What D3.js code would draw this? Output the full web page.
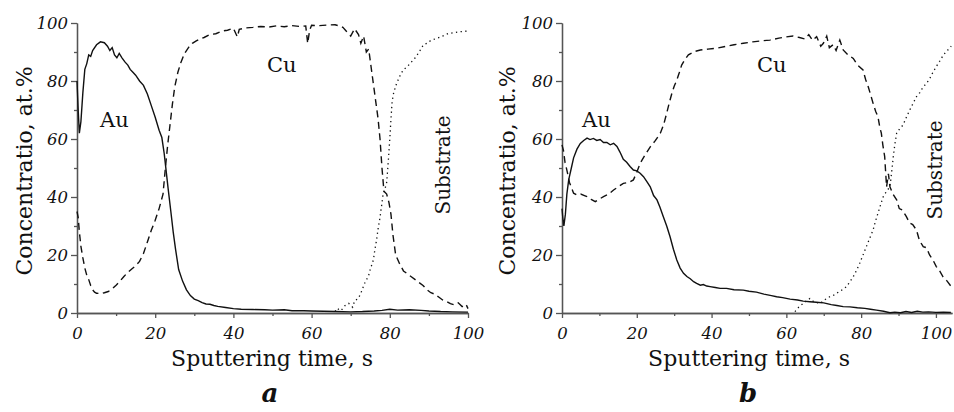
<!DOCTYPE html>
<html>
<head>
<meta charset="utf-8">
<script src="https://cdn.jsdelivr.net/npm/d3@7"></script>
<style>
  body { margin: 0; background: #fff; }
  svg { display: block; }
</style>
</head>
<body>
<div id="chart"></div>
<script>
// depth profiles, [time s, concentration at.%]
var auA = [[0,80],[0.3,70],[0.6,62],[1,66],[1.5,76],[2,84],[2.5,86],[3,89],[3.5,88.5],[4,90.5],[5,92.5],[6,93.5],[7,93.2],[7.8,92],[8.4,90.5],[9,91.5],[9.6,89],[10.2,88],[10.8,89.5],[11.5,88],[12.3,86.5],[13,85.5],[13.6,84],[14.3,83],[15,82],[16,80],[17,78.5],[18,75.5],[19,71.5],[20,67.5],[21,63],[21.7,60.5],[22.3,55],[22.8,49],[23.3,43],[24,35],[24.6,28],[25.2,22],[26,15],[27,11],[28,8],[29,6],[30,4.8],[31,4.3],[32,3.6],[33,3.1],[34,3],[35,2.6],[36,2.3],[38,1.9],[40,1.5],[42,1.3],[45,1.2],[48,1.1],[50,1.0],[53,1.1],[55,0.8],[58,0.8],[60,0.7],[63,0.6],[66,0.5],[70,0.4],[73,0.5],[76,0.7],[78,0.9],[80,1.3],[82,1.0],[85,1.1],[88,0.9],[90,0.7],[93,0.5],[96,0.4],[100,0.3]];
var cuA = [[0,35],[0.3,33],[0.6,28],[1,23],[1.5,19],[2,15.5],[2.5,13],[3,11.5],[3.5,9.5],[4,8],[4.5,7.2],[5,6.8],[6,6.7],[7,7],[8,7.4],[9,8.3],[10,9.6],[11,11],[12,12.6],[13,14],[14,15.2],[15,16.3],[16,17.8],[17,20.5],[18,24.5],[19,28.5],[20,32],[21,36],[22,41],[22.6,50],[23.2,58],[23.8,65],[24.4,72],[25,78],[25.8,83],[26.6,86.5],[27.5,89.5],[28.5,91.5],[29.5,93],[30.5,93.8],[31.5,94.5],[32.5,95],[34,96],[35.5,96.3],[37,97.2],[38.5,97.5],[40,98.2],[41,95.2],[41.5,97.8],[43,98.3],[45,98.5],[47,98.8],[49,98.6],[51,99],[53,98.7],[55,99.1],[57,98.8],[58.5,99],[59,93],[59.5,97.5],[60,99.2],[62,99.1],[64,99.3],[66,99.4],[67,99],[68,98.5],[69,97],[70,95.5],[71,98],[72,96],[72.6,93],[73.3,95.5],[74,90],[74.6,91],[75.2,85],[75.8,79],[76.4,73],[77,67],[77.5,60],[78,50],[78.5,42],[79.2,41],[79.8,38],[80.3,34],[80.8,27],[81.5,20],[82.5,17],[83.5,14.5],[84.5,13.5],[85.5,12.5],[86.5,11.5],[87.5,10.5],[88.5,9.5],[89.5,8],[90.5,7],[91.5,6.5],[92.5,5.5],[93.5,4.5],[94.5,4],[95.5,3.2],[96.5,2.8],[97.5,3.5],[98.5,2.2],[99.5,3],[100,1.5]];
var subA = [[66,0.5],[66.5,1.6],[67.5,0.8],[68.5,2.5],[69.5,3.3],[70.5,2],[71,4.2],[71.9,5],[72.5,6.5],[73.2,9],[73.8,11],[74.5,12.5],[75,15],[75.8,18.3],[76.2,22],[76.6,25],[77,29],[77.5,33],[78,38],[78.3,41],[78.8,43],[79.2,45],[79.6,52],[80,60],[80.3,67],[80.6,73],[81,76],[81.7,79],[82.5,81.5],[83.4,83.8],[84.5,85],[85.5,86.5],[86.5,88],[87.5,90],[88.6,92.5],[89.5,93],[90.5,94],[92,94.7],[93.5,95.5],[95,96.4],[96.5,96.7],[98,97],[99.7,97.2]];

var auB = [[0,36],[0.2,33],[0.5,30],[0.9,34],[1.3,41],[1.8,46],[2.5,50],[3.1,53.5],[4,56.5],[4.9,58.5],[5.8,59.5],[6.7,60.3],[7.5,59.8],[8.4,60.2],[9.3,59.5],[10.2,59.8],[11.1,58.8],[12,58.8],[12.9,58],[13.8,58.5],[14.7,57.4],[15.5,55.5],[16.4,53],[17.3,52],[18.2,50.5],[19.1,49.3],[20,49],[20.9,48.2],[21.8,47],[22.7,45.3],[23.6,43.5],[24.5,40.5],[25.4,39],[26.2,36.5],[27.1,33.2],[28,30],[28.9,26.3],[29.8,22],[30.7,18.3],[31.6,15.5],[32.5,13.7],[33.4,12.6],[34.3,11.8],[35.2,10.8],[36,10.2],[37,9.6],[37.8,9.8],[38.7,9.3],[39.6,9.1],[41,8.8],[42.3,8.5],[44,8.5],[46,8],[48.5,7.9],[50,7.5],[52,7.2],[54,6.5],[56,6],[57.4,5.6],[59,5.3],[61,4.8],[63,4.5],[64.5,4.1],[66.3,3.9],[68,3.7],[70,3.5],[72,2.9],[73.5,2.6],[75.2,2.2],[77,2.1],[79,1.8],[81,1.6],[82.5,1.3],[84.1,1.0],[86,0.6],[87.7,0.1],[89,0.3],[90.5,0.1],[92,0.5],[93.5,0.2],[95,0.6],[96.5,0.3],[98,0.4],[100,0.2],[102,0.3],[104,0.2]];
var cuB = [[0,58],[0.4,56],[0.8,52],[1.3,49.3],[2,45],[3.1,41.3],[4,40.7],[5,41],[6,40.5],[6.7,40.1],[7.8,39.2],[8.9,38.4],[10,39.3],[11.1,40.1],[12.5,41],[13.8,42.4],[15,43.5],[16.4,44.7],[17.8,45],[19.1,45.9],[20,48.5],[20.9,51.6],[22.2,54.5],[23.6,57.3],[25,59.5],[26.3,62],[27.2,65],[28,68.9],[28.7,72.5],[29.4,75.8],[30,78.2],[30.7,80.3],[31.4,83],[32,85.5],[32.9,87.5],[33.8,89],[35.5,90.2],[37,90.7],[39,91],[41.4,91.3],[44,92],[46,92.5],[48.5,93],[51,93.5],[53,93.8],[55.6,94.1],[58,94.8],[60,95.2],[61.8,95.5],[63.5,95],[65,94.5],[66,96],[67,94],[68.1,95.3],[69.2,92],[69.9,93],[70.8,95.5],[71.5,91.5],[72.5,92.5],[73.3,90.5],[74.3,94.1],[75.2,90.7],[76.5,89],[77.9,87.8],[79,85.5],[80.5,83.8],[81.2,80.5],[81.9,78],[82.6,75],[83.2,72.3],[83.9,69.5],[84.5,67.7],[85,64],[85.4,62],[85.8,58],[86.3,53.9],[86.8,43.5],[87.3,48],[87.7,43.5],[88.5,41],[89.5,39],[90.2,36],[91,35.5],[92.1,33.2],[93,31],[93.8,30.5],[94.8,28.6],[95.6,25],[96.6,22.9],[97.5,22.5],[98.3,20],[99.2,18.3],[100.1,16],[101,14.5],[101.9,12.5],[103,11],[104.1,9.1]];
var subB = [[62.3,0.5],[63.3,2],[64.5,3.3],[65.4,4.2],[66.3,5],[67.2,4],[68.1,3.6],[69,3.3],[69.8,4],[70.7,5],[71.6,5.6],[72.5,6],[73.4,6.8],[74.3,7.5],[75.2,8.2],[76.1,9.1],[77,10.8],[77.9,12.5],[78.8,14.8],[79.6,17.1],[80.5,20],[81.4,22.9],[82.3,25.8],[83.2,28.6],[83.8,31.5],[84.5,34.4],[85.2,37.3],[85.9,40.1],[86.8,42],[87.7,43.5],[88.2,49],[88.6,53.9],[89,58],[89.5,62],[90.3,63.5],[91.2,64.8],[92.1,67.5],[93,70],[93.9,72.3],[94.8,74.6],[95.7,76],[96.6,78],[97.5,79.2],[98.4,81],[99.2,83],[100.1,85],[101,86.8],[102,89],[103.2,90.7],[104.1,92]];

var yMajor = [0, 20, 40, 60, 80, 100];
var yMinor = [10, 30, 50, 70, 90];
var xMajor = [0, 20, 40, 60, 80, 100];
var xMinorA = [10, 30, 50, 70, 90];
var xMinorB = [10, 30, 50, 70, 90];

var width = 954, height = 412;
var serif = "'DejaVu Serif', 'Liberation Serif', serif";

var svg = d3.select("#chart").append("svg")
  .attr("width", width)
  .attr("height", height);

function panel(p) {
  var x = d3.scaleLinear().domain(p.xDomain).range([p.left, p.right]);
  var y = d3.scaleLinear().domain([0, 100]).range([313, 23]);
  var g = svg.append("g");

  // minor ticks first, no labels
  g.append("g").attr("transform", "translate(0,313)")
    .call(d3.axisBottom(x).tickValues(p.xMinor).tickSize(3).tickSizeOuter(0).tickFormat(""));
  g.append("g").attr("transform", "translate(" + p.left + ",0)")
    .call(d3.axisLeft(y).tickValues(yMinor).tickSize(3).tickSizeOuter(0).tickFormat(""));

  g.append("g").attr("transform", "translate(0,313)")
    .call(d3.axisBottom(x).tickValues(xMajor).tickSize(5).tickPadding(9).tickSizeOuter(0));
  g.append("g").attr("transform", "translate(" + p.left + ",0)")
    .call(d3.axisLeft(y).tickValues(yMajor).tickSize(6).tickPadding(3).tickSizeOuter(0));

  g.selectAll(".domain, .tick line").attr("stroke", "#555").attr("stroke-width", 1.3);
  g.selectAll(".tick text")
    .attr("font-family", serif)
    .attr("font-style", "italic")
    .attr("font-size", 16.5)
    .attr("fill", "#111");

  var line = d3.line().x(d => x(d[0])).y(d => y(d[1]));
  var curves = g.append("g").attr("fill", "none").attr("stroke", "#111");
  curves.append("path").datum(p.au).attr("d", line).attr("stroke-width", 1.4);
  curves.append("path").datum(p.cu).attr("d", line).attr("stroke-width", 1.4)
    .attr("stroke-dasharray", "7,4.5");
  curves.append("path").datum(p.sub).attr("d", line).attr("stroke-width", 1.3)
    .attr("stroke-dasharray", "1.3,3.4");

  var t = g.append("g").attr("font-family", serif).attr("fill", "#111");
  t.append("text").attr("x", p.titleX).attr("y", 366)
    .attr("text-anchor", "middle").attr("font-size", 22).text("Sputtering time, s");
  t.append("text").attr("transform", "translate(" + p.yTitleX + ",171) rotate(-90)")
    .attr("text-anchor", "middle").attr("font-size", 22).text("Concentratio, at.%");
  t.append("text").attr("x", p.auPos[0]).attr("y", p.auPos[1])
    .attr("font-size", 21).text("Au");
  t.append("text").attr("x", p.cuPos[0]).attr("y", p.cuPos[1])
    .attr("font-size", 21).text("Cu");
  t.append("text").attr("transform", "translate(" + p.subPos[0] + "," + p.subPos[1] + ") rotate(-90)")
    .attr("text-anchor", "middle").attr("font-size", 20).text("Substrate");
  t.append("text").attr("x", p.letterX).attr("y", 402)
    .attr("text-anchor", "middle").attr("font-size", 26)
    .attr("font-style", "italic").attr("font-weight", "bold").text(p.letter);
}

panel({
  xDomain: [0, 100], left: 77, right: 468, xMinor: xMinorA,
  au: auA, cu: cuA, sub: subA,
  titleX: 272, yTitleX: 32,
  auPos: [100, 127], cuPos: [267, 72], subPos: [450, 165],
  letterX: 270, letter: "a"
});

panel({
  xDomain: [0, 104.3], left: 562, right: 952, xMinor: xMinorB,
  au: auB, cu: cuB, sub: subB,
  titleX: 749, yTitleX: 515,
  auPos: [582, 127], cuPos: [757, 72], subPos: [942, 170],
  letterX: 748, letter: "b"
});
</script>
</body>
</html>
